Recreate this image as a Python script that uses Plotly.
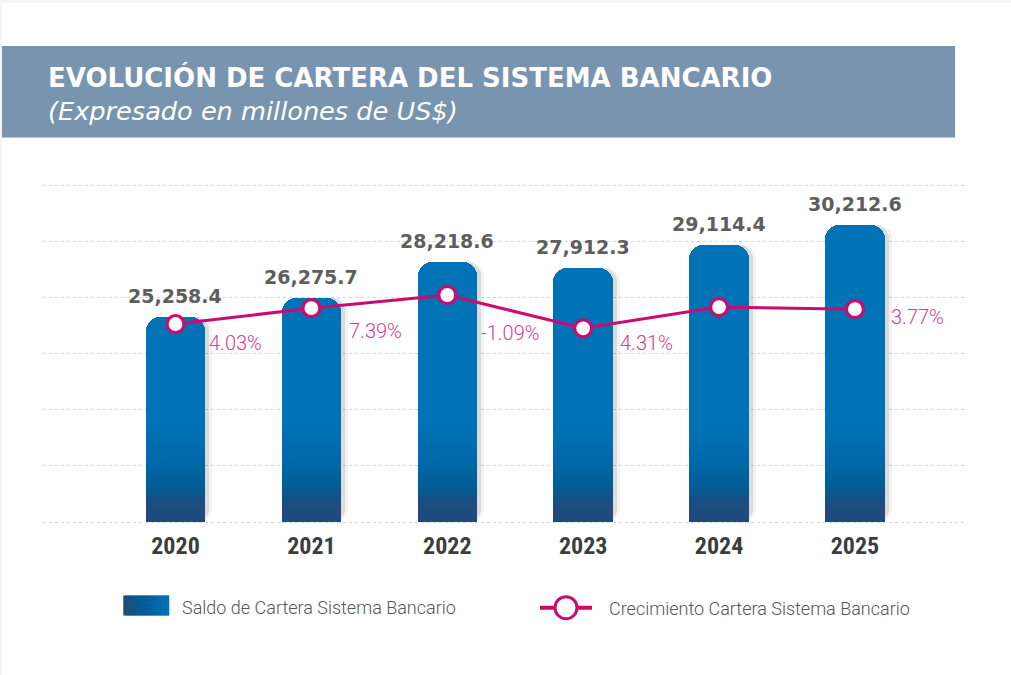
import numpy as np
import plotly.graph_objects as go

# ---------------- data ----------------
years = ["2020", "2021", "2022", "2023", "2024", "2025"]
saldo = [25258.4, 26275.7, 28218.6, 27912.3, 29114.4, 30212.6]
saldo_labels = ["25,258.4", "26,275.7", "28,218.6", "27,912.3", "29,114.4", "30,212.6"]
crecimiento = [0.0, 4.03, 7.39, -1.09, 4.31, 3.77]
crec_labels = ["4.03%", "7.39%", "-1.09%", "4.31%", "", "3.77%"]

title_text = "EVOLUCIÓN DE CARTERA DEL SISTEMA BANCARIO"
subtitle_text = "(Expresado en millones de US$)"
legend_bar = "Saldo de Cartera Sistema Bancario"
legend_line = "Crecimiento Cartera Sistema Bancario"

# ---------------- style ----------------
W, H = 1011, 675
PX_L, PX_R, PX_T, PX_B = 43, 965, 178, 526
GRID_T, GRID_B = 185, 522
GRID_LO, GRID_HI = 14200, 32360
X_RANGE = [-0.975, 5.81]
BAR_W = 0.437
BLUE = "#0073b7"
MAGENTA = "#cc0a70"
PINK_TXT = "#d8408f"
GRAY_TXT = "#5e5e5e"
# label offsets (px) relative to the growth points: (dx, dy downwards)
pct_offsets = [(32, 19), (36, 23), (32, 38), (35, 15), (0, 0), (34, 8)]

xpos = list(range(len(years)))

# axis range so that the grid spans exactly GRID_T..GRID_B
upp = (GRID_HI - GRID_LO) / (GRID_B - GRID_T)
Y_RANGE = [GRID_LO - (PX_B - GRID_B) * upp, GRID_HI + (GRID_T - PX_T) * upp]
# growth axis: 7.39 -> px 295, -1.09 -> px 328.3
g_upp = (7.39 - (-1.09)) / (328.3 - 295)
Y2_RANGE = [7.39 - (PX_B - 295) * g_upp, 7.39 + (295 - PX_T) * g_upp]


def px_to_paper_x(px):
    return px / W


def px_to_paper_y(py):
    return 1 - py / H


def px_to_val(py):
    return GRID_LO + (GRID_B - py) * upp


def hex_to_rgb(h):
    h = h.lstrip("#")
    return tuple(int(h[i:i + 2], 16) for i in (0, 2, 4))


def interp_color(stops, t):
    for (p0, c0), (p1, c1) in zip(stops[:-1], stops[1:]):
        if p0 <= t <= p1:
            f = 0 if p1 == p0 else (t - p0) / (p1 - p0)
            a, b = hex_to_rgb(c0), hex_to_rgb(c1)
            r = [round(a[i] + (b[i] - a[i]) * f) for i in range(3)]
            return "rgb(%d,%d,%d)" % tuple(r)
    return stops[-1][1]


fig = go.Figure()

# shadows
cat_px = (PX_R - PX_L) / (X_RANGE[1] - X_RANGE[0])
for shift, alpha in [(7, 0.05), (4, 0.09)]:
    fig.add_trace(go.Bar(
        x=xpos, y=[v - GRID_LO for v in saldo], base=GRID_LO,
        width=BAR_W, offset=-BAR_W / 2 + shift / cat_px,
        marker=dict(color="rgba(0,0,0,%s)" % alpha, cornerradius=14, line=dict(width=0)),
        hoverinfo="skip", showlegend=False))

# main bars
fig.add_trace(go.Bar(
    x=xpos, y=[v - GRID_LO for v in saldo], base=GRID_LO,
    width=BAR_W, name=legend_bar,
    marker=dict(color=BLUE, cornerradius=14, line=dict(width=0)),
    hovertext=saldo_labels, hoverinfo="text", showlegend=False))

# vertical gradient at the foot of the bars
grad_stops = [(420, "#0073b7"), (462, "#0068a8"), (486, "#005d96"), (505, "#1d4c7f"), (522, "#1f4a7b")]
for py in range(420, 522, 2):
    col = interp_color(grad_stops, py + 1)
    lo, hi = px_to_val(py + 2), px_to_val(py)
    fig.add_trace(go.Bar(
        x=xpos, y=[hi - lo] * len(xpos), base=lo, width=BAR_W,
        marker=dict(color=col, cornerradius=0, line=dict(width=0)),
        hoverinfo="skip", showlegend=False))

# growth line
fig.add_trace(go.Scatter(
    x=xpos, y=crecimiento, yaxis="y2", mode="lines+markers", name=legend_line,
    line=dict(color=MAGENTA, width=3),
    marker=dict(symbol="circle", size=17, color="white", line=dict(color=MAGENTA, width=3.2)),
    showlegend=False))

annotations = []
# value labels
for i, (v, t) in enumerate(zip(saldo, saldo_labels)):
    annotations.append(dict(x=i, y=v, xref="x", yref="y", text=t, showarrow=False,
                            yanchor="middle", yshift=21,
                            font=dict(family="DejaVu Sans", size=19, color=GRAY_TXT, weight="bold")))
# percentage labels
for i, (g, t) in enumerate(zip(crecimiento, crec_labels)):
    if not t:
        continue
    dx, dy = pct_offsets[i]
    annotations.append(dict(x=i, y=g, xref="x", yref="y2", text=t, showarrow=False,
                            xanchor="left", yanchor="middle", xshift=dx, yshift=-dy,
                            font=dict(family="Roboto", size=20, color=PINK_TXT, weight=300)))

# header texts
annotations.append(dict(x=px_to_paper_x(46), y=px_to_paper_y(78), xref="paper", yref="paper",
                        text=title_text, showarrow=False, xanchor="left", yanchor="middle",
                        font=dict(family="DejaVu Sans", size=26, color="white", weight="bold")))
annotations.append(dict(x=px_to_paper_x(46), y=px_to_paper_y(111), xref="paper", yref="paper",
                        text=subtitle_text, showarrow=False, xanchor="left", yanchor="middle",
                        font=dict(family="DejaVu Sans", size=25.6, color="white", style="italic")))
# legend texts
annotations.append(dict(x=px_to_paper_x(180), y=px_to_paper_y(607), xref="paper", yref="paper",
                        text=legend_bar, showarrow=False, xanchor="left", yanchor="middle",
                        font=dict(family="Roboto", size=18, color="#555555", weight=300)))
annotations.append(dict(x=px_to_paper_x(607), y=px_to_paper_y(608), xref="paper", yref="paper",
                        text=legend_line, showarrow=False, xanchor="left", yanchor="middle",
                        font=dict(family="Roboto", size=18, color="#555555", weight=300)))

shapes = []
# card background
shapes.append(dict(type="rect", xref="paper", yref="paper", layer="below",
                   x0=px_to_paper_x(2), x1=1, y0=0, y1=px_to_paper_y(3),
                   fillcolor="white", line=dict(width=0)))
# header band
shapes.append(dict(type="rect", xref="paper", yref="paper", layer="below",
                   x0=px_to_paper_x(2), x1=px_to_paper_x(955),
                   y0=px_to_paper_y(137.5), y1=px_to_paper_y(46),
                   fillcolor="#7994af", line=dict(width=0)))
# legend swatch (horizontal gradient)
sw_stops = [(0, "#1f4a7b"), (0.5, "#005f9c"), (1, "#0073b7")]
sx0, sx1, sy0, sy1 = 123.3, 169.3, 595.5, 615.5
n = 23
for k in range(n):
    a = sx0 + (sx1 - sx0) * k / n
    b = sx0 + (sx1 - sx0) * (k + 1) / n
    shapes.append(dict(type="rect", xref="paper", yref="paper",
                       x0=px_to_paper_x(a), x1=px_to_paper_x(min(b + 1.5, sx1)),
                       y0=px_to_paper_y(sy1), y1=px_to_paper_y(sy0),
                       fillcolor=interp_color(sw_stops, (k + 0.5) / n), line=dict(width=0)))
# legend line marker
shapes.append(dict(type="line", xref="paper", yref="paper",
                   x0=px_to_paper_x(540), x1=px_to_paper_x(592),
                   y0=px_to_paper_y(607.7), y1=px_to_paper_y(607.7),
                   line=dict(color=MAGENTA, width=4)))
shapes.append(dict(type="circle", xref="paper", yref="paper",
                   x0=px_to_paper_x(555), x1=px_to_paper_x(577),
                   y0=px_to_paper_y(618.7), y1=px_to_paper_y(596.7),
                   fillcolor="white", line=dict(color=MAGENTA, width=3)))

fig.update_layout(
    width=W, height=H,
    margin=dict(l=0, r=0, t=0, b=0),
    paper_bgcolor="#f5f5f5", plot_bgcolor="rgba(0,0,0,0)",
    barmode="overlay", bargap=0,
    showlegend=False,
    xaxis=dict(domain=[px_to_paper_x(PX_L), px_to_paper_x(PX_R)], range=X_RANGE,
               tickmode="array", tickvals=xpos, ticktext=years,
               showgrid=False, zeroline=False, showline=False,
               ticks="", ticklabelstandoff=3,
               tickfont=dict(family="Liberation Sans Narrow, Roboto Condensed, DejaVu Sans Condensed, sans-serif",
                             size=24, color="#3d3d3d", weight="bold"),
               fixedrange=True),
    yaxis=dict(domain=[px_to_paper_y(PX_B), px_to_paper_y(PX_T)], range=Y_RANGE,
               tickmode="linear", tick0=GRID_LO, dtick=(GRID_HI - GRID_LO) / 6,
               showgrid=True, gridcolor="#d6d6d6", gridwidth=1, griddash="dot",
               showticklabels=False, zeroline=False, showline=False, fixedrange=True),
    yaxis2=dict(domain=[px_to_paper_y(PX_B), px_to_paper_y(PX_T)], range=Y2_RANGE,
                overlaying="y", side="right", showgrid=False, showticklabels=False,
                zeroline=False, showline=False, fixedrange=True),
    annotations=annotations,
    shapes=shapes,
)

fig.write_html("out.html", config={"displayModeBar": False},
               post_script="document.body.style.margin='0';document.body.style.overflow='hidden';")
